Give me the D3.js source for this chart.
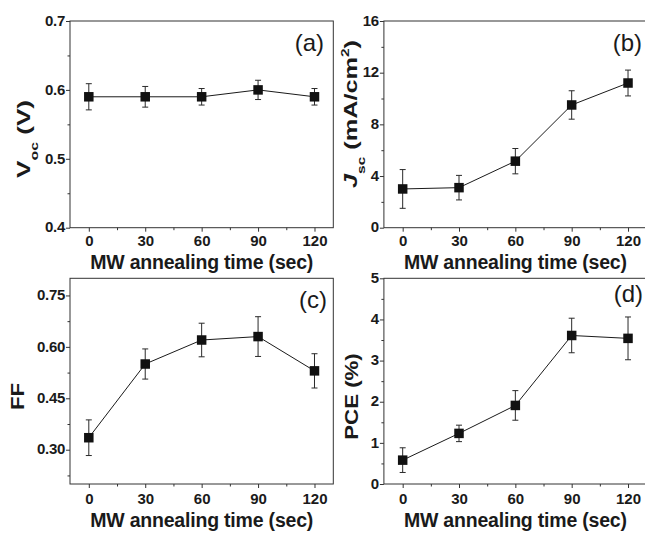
<!DOCTYPE html>
<html>
<head>
<meta charset="utf-8">
<script src="https://cdn.jsdelivr.net/npm/d3@7"></script>
<style>
  html, body { margin: 0; padding: 0; background: #fff; }
  svg { display: block; font-family: "Liberation Sans", Arial, Helvetica, sans-serif; }
</style>
</head>
<body>
<svg id="fig" width="645" height="534"></svg>
<script>
// Annealing times (s)
const times = [0, 30, 60, 90, 120];
const xTicks = [0, 30, 60, 90, 120];
const xMinor = [15, 45, 75, 105];

// Open-circuit voltage (V)
const voc = [0.59, 0.59, 0.59, 0.60, 0.59];
const vocErr = [0.019, 0.015, 0.012, 0.014, 0.012];
const vocTicks = [0.4, 0.5, 0.6, 0.7];
const vocMinor = [0.45, 0.55, 0.65];

// Short-circuit current density (mA/cm2)
const jsc = [3.0, 3.1, 5.15, 9.5, 11.2];
const jscErr = [1.5, 0.95, 0.98, 1.1, 1.0];
const jscTicks = [0, 4, 8, 12, 16];
const jscMinor = [2, 6, 10, 14];

// Fill factor
const ff = [0.335, 0.55, 0.62, 0.63, 0.53];
const ffErr = [0.052, 0.044, 0.049, 0.058, 0.05];
const ffTicks = [0.30, 0.45, 0.60, 0.75];
const ffMinor = [0.225, 0.375, 0.525, 0.675];

// Power conversion efficiency (%)
const pce = [0.58, 1.23, 1.91, 3.61, 3.54];
const pceErr = [0.30, 0.20, 0.36, 0.42, 0.52];
const pceTicks = [0, 1, 2, 3, 4, 5];
const pceMinor = [0.5, 1.5, 2.5, 3.5, 4.5];

const svg = d3.select("#fig");
const INK = "#1a1a1a";
const AXIS = "#333";
const FONT = "'Liberation Sans', Arial, sans-serif";

const panels = [
  { tag: "(a)", box: [70, 333.3, 21, 227.7], yDom: [0.4, 0.7], vals: voc, errs: vocErr,
    ticks: vocTicks, minor: vocMinor, fmt: d3.format(".1f"),
    tagPos: [324, 51], xTitleY: 268.5, xLabY: 246,
    ylab: { parts: [["V", ""], ["oc", "sub"], [" (V)", ""]], bx: 30, cy: 139, len: 78 } },
  { tag: "(b)", box: [383.9, 646.8, 21, 227.7], yDom: [0, 16], vals: jsc, errs: jscErr,
    ticks: jscTicks, minor: jscMinor, fmt: d3.format("d"),
    tagPos: [642, 51], xTitleY: 268.5, xLabY: 246,
    ylab: { parts: [["J", "it"], ["sc", "sub"], [" (mA/cm", ""], ["2", "sup"], [")", ""]], bx: 357, cy: 114, len: 148 } },
  { tag: "(c)", box: [70, 333.3, 278.3, 484], yDom: [0.2, 0.8], vals: ff, errs: ffErr,
    ticks: ffTicks, minor: ffMinor, fmt: d3.format(".2f"),
    tagPos: [327, 308], xTitleY: 527, xLabY: 503.5,
    ylab: { parts: [["FF", ""]], bx: 23.5, cy: 396.5, len: 27 } },
  { tag: "(d)", box: [383.9, 646.8, 278.3, 484], yDom: [0, 5], vals: pce, errs: pceErr,
    ticks: pceTicks, minor: pceMinor, fmt: d3.format("d"),
    tagPos: [643, 302], xTitleY: 527, xLabY: 503.5,
    ylab: { parts: [["PCE (%)", ""]], bx: 357.5, cy: 396.5, len: 86.5 } }
];

panels.forEach(p => {
  const [x0, x1, y0, y1] = p.box;
  const x = d3.scaleLinear().domain([-10, 130]).range([x0, x1]);
  const y = d3.scaleLinear().domain(p.yDom).range([y1, y0]);
  const g = svg.append("g");

  // frame
  g.append("rect")
    .attr("x", x0).attr("y", y0).attr("width", x1 - x0).attr("height", y1 - y0)
    .attr("fill", "none").attr("stroke", AXIS).attr("stroke-width", 1);

  // x axis: major + minor ticks
  const xa = g.append("g").attr("transform", `translate(0,${y1})`)
    .call(d3.axisBottom(x).tickValues(xTicks).tickSize(4).tickPadding(2).tickFormat(d3.format("d")));
  xa.select(".domain").remove();
  xa.selectAll(".tick line").attr("stroke", AXIS);
  xa.selectAll(".tick text").attr("y", null).attr("dy", null)
    .attr("transform", `translate(0,${p.xLabY - y1})`)
    .attr("fill", INK).attr("font-size", 15).attr("font-weight", "bold")
    .attr("font-family", FONT);
  const xm = g.append("g").attr("transform", `translate(0,${y1})`)
    .call(d3.axisBottom(x).tickValues(xMinor).tickSize(2.5).tickFormat(""));
  xm.select(".domain").remove();
  xm.selectAll(".tick line").attr("stroke", AXIS);

  // y axis: major + minor ticks
  const ya = g.append("g").attr("transform", `translate(${x0},0)`)
    .call(d3.axisLeft(y).tickValues(p.ticks).tickSize(4).tickPadding(1).tickFormat(p.fmt));
  ya.select(".domain").remove();
  ya.selectAll(".tick line").attr("stroke", AXIS);
  ya.selectAll(".tick text").attr("dy", "0.28em")
    .attr("fill", INK).attr("font-size", 15).attr("font-weight", "bold")
    .attr("letter-spacing", "-0.3")
    .attr("font-family", FONT);
  const ym = g.append("g").attr("transform", `translate(${x0},0)`)
    .call(d3.axisLeft(y).tickValues(p.minor).tickSize(2.5).tickFormat(""));
  ym.select(".domain").remove();
  ym.selectAll(".tick line").attr("stroke", AXIS);

  // x title
  g.append("text")
    .attr("x", (x0 + x1) / 2).attr("y", p.xTitleY)
    .attr("text-anchor", "middle").attr("font-size", 19.5).attr("font-weight", "bold")
    .attr("letter-spacing", "-0.2").attr("fill", INK)
    .text("MW annealing time (sec)");

  // y title (rotated, stretched along its length)
  const yl = g.append("text")
    .attr("text-anchor", "middle").attr("font-size", 18).attr("font-weight", "bold")
    .attr("fill", INK);
  p.ylab.parts.forEach(([t, kind]) => {
    const ts = yl.append("tspan").text(t);
    if (kind === "it") ts.attr("font-style", "italic");
    if (kind === "sub") ts.attr("font-size", 11).attr("dy", 8);
    if (kind === "sup") ts.attr("font-size", 11).attr("dy", -8);
  });
  // undo shifts after sub/sup spans
  yl.selectAll("tspan").each(function(d, i, nodes) {
    const prev = i > 0 ? d3.select(nodes[i - 1]) : null;
    if (prev && prev.attr("dy")) {
      const sh = +prev.attr("dy");
      if (!d3.select(this).attr("dy")) d3.select(this).attr("dy", -sh);
    }
  });
  const natural = yl.node().getComputedTextLength();
  const sx = p.ylab.len / natural;
  yl.attr("transform", `translate(${p.ylab.bx},${p.ylab.cy}) rotate(-90) scale(${sx},1)`);

  // panel tag
  g.append("text")
    .attr("x", p.tagPos[0]).attr("y", p.tagPos[1])
    .attr("text-anchor", "end").attr("font-size", 24).attr("fill", INK)
    .text(p.tag);

  // connecting line
  const pts = times.map((t, i) => [t, p.vals[i], p.errs[i]]);
  g.append("path")
    .datum(pts)
    .attr("fill", "none").attr("stroke", INK).attr("stroke-width", 1)
    .attr("d", d3.line().x(d => x(d[0])).y(d => y(d[1])));

  // error bars
  const eb = g.selectAll(".eb").data(pts).join("g").attr("class", "eb")
    .attr("stroke", "#2a2a2a").attr("stroke-width", 1);
  eb.append("line")
    .attr("x1", d => x(d[0])).attr("x2", d => x(d[0]))
    .attr("y1", d => y(d[1] - d[2])).attr("y2", d => y(d[1] + d[2]));
  eb.append("line")
    .attr("x1", d => x(d[0]) - 3).attr("x2", d => x(d[0]) + 3)
    .attr("y1", d => y(d[1] + d[2])).attr("y2", d => y(d[1] + d[2]));
  eb.append("line")
    .attr("x1", d => x(d[0]) - 3).attr("x2", d => x(d[0]) + 3)
    .attr("y1", d => y(d[1] - d[2])).attr("y2", d => y(d[1] - d[2]));

  // square markers
  g.selectAll(".mk").data(pts).join("rect").attr("class", "mk")
    .attr("x", d => x(d[0]) - 4.75).attr("y", d => y(d[1]) - 4.75)
    .attr("width", 9.5).attr("height", 9.5)
    .attr("fill", "#111");
});
</script>
</body>
</html>
